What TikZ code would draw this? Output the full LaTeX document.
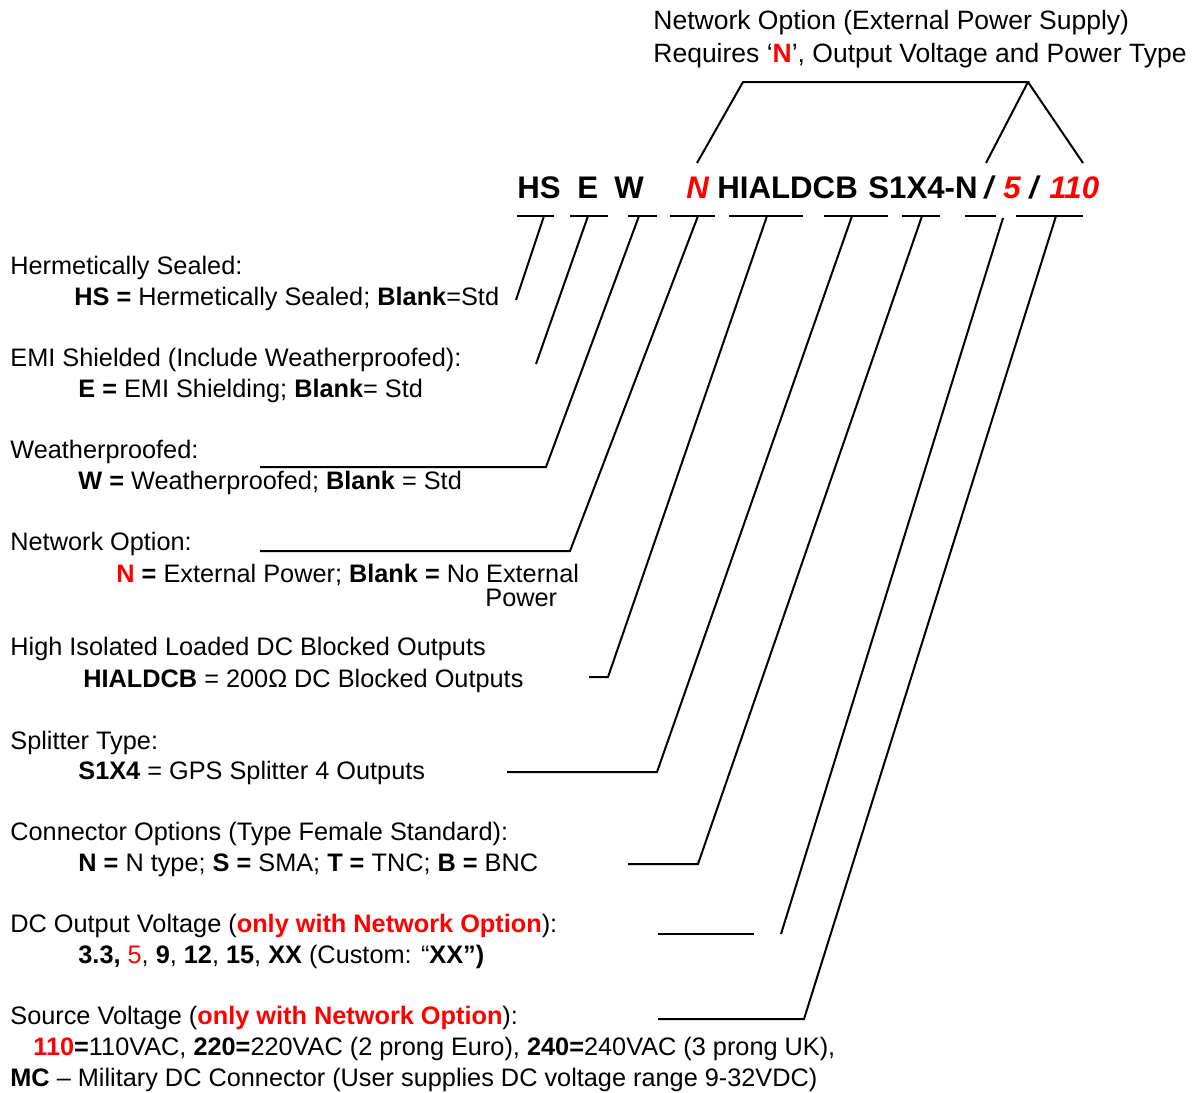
\documentclass[tikz,border=0pt]{standalone}
\usepackage{fontspec}
\setmainfont{Liberation Sans}
\definecolor{optred}{RGB}{255,0,0}

\begin{document}
\begin{tikzpicture}[
        x=0.5pt, y=-0.5pt,
        font=\fontsize{12.65}{15}\selectfont,
        desc/.style={anchor=base west, inner sep=0pt},
        note/.style={anchor=base west, inner sep=0pt,
          font=\fontsize{13.25}{16}\selectfont},
        code/.style={anchor=base west, inner sep=0pt,
          font=\fontsize{15.6}{19}\selectfont\bfseries},
        optcode/.style={code, text=optred,
          font=\fontsize{15.6}{19}\selectfont\bfseries\itshape},
        lead/.style={draw, line width=1pt}
      ]
      \useasboundingbox (0,0) rectangle (1199,1092);

      % Part number
      \node [code] (c_hs) at (517,198) {HS};
      \node [code] (c_e) at (577,198) {E};
      \node [code] (c_w) at (614,198) {W};
      \node [optcode] (c_net) at (686,198) {N};
      \node [code] (c_hi) at (717,198) {HIALDCB};
      \node [code] (c_spl) at (868,198) {S1X4-N};
      \node [code, font=\fontsize{15.6}{19}\selectfont\bfseries\itshape]
      (c_sl1) at (984,198) {/};
      \node [optcode] (c_dc) at (1003,198) {5};
      \node [code, font=\fontsize{15.6}{19}\selectfont\bfseries\itshape]
      (c_sl2) at (1029,198) {/};
      \node [optcode] (c_src) at (1049,198) {110};

      % Network note on top
      \node [note] (n_top1) at (653,29) {Network Option (External Power Supply)};
      \node [note] (n_top2) at (653,62) {Requires ‘\textcolor{optred}{\textbf{N}}’,
      Output Voltage and Power Type};

      % Bracket from note to N, 5 and 110
      \draw [lead] (697,163) -- (743,82) -- (1028,82) -- (986,163);
      \draw [lead] (1028,82) -- (1083,163);

      % Underlines below the part number
      \foreach \xa/\xb in {517/554, 570/608, 628/657, 670/715, 729/803,
        824/888, 902/940, 965/996, 1016/1083}
      \draw [lead] (\xa,216) -- (\xb,216);

      % Leader lines to the descriptions
      \draw [lead] (544,216) -- (516,300);
      \draw [lead] (588,216) -- (536,364);
      \draw [lead] (639,216) -- (546,467) -- (260,467);
      \draw [lead] (698,216) -- (570,551) -- (260,551);
      \draw [lead] (767,216) -- (608,677) -- (589,677);
      \draw [lead] (852,216) -- (657,772) -- (507,772);
      \draw [lead] (922,216) -- (698,864) -- (628,864);
      \draw [lead] (1003,218) -- (781,934);
      \draw [lead] (658,934) -- (754,934);
      \draw [lead] (1056,216) -- (804,1019) -- (658,1019);

      % Descriptions
      \node [desc] (d_hs) at (10,274) {Hermetically Sealed:};
      \node [desc] (d_hs_val) at (74,305) {\textbf{HS =} Hermetically
      Sealed; \textbf{Blank}=Std};
      \node [desc] (d_emi) at (10,366) {EMI Shielded (Include
      Weatherproofed):};
      \node [desc] (d_emi_val) at (78,397) {\textbf{E =} EMI Shielding;
      \textbf{Blank}= Std};
      \node [desc] (d_wp) at (10,458) {Weatherproofed:};
      \node [desc] (d_wp_val) at (78,489) {\textbf{W =} Weatherproofed;
      \textbf{Blank} = Std};
      \node [desc] (d_net) at (10,550) {Network Option:};
      \node [desc] (d_net_val) at (116,582) {\textcolor{optred}{\textbf{N}}
      \textbf{=} External Power; \textbf{Blank =} No External};
      \node [desc] (d_net_val2) at (485,606) {Power};
      \node [desc] (d_hi) at (10,655) {High Isolated Loaded DC Blocked
      Outputs};
      \node [desc] (d_hi_val) at (83,687) {\textbf{HIALDCB} = 200Ω DC
      Blocked Outputs};
      \node [desc] (d_spl) at (10,749) {Splitter Type:};
      \node [desc] (d_spl_val) at (78,779) {\textbf{S1X4} = GPS Splitter 4
      Outputs};
      \node [desc] (d_con) at (10,840) {Connector Options (Type Female
      Standard):};
      \node [desc] (d_con_val) at (78,871) {\textbf{N =} N type; \textbf{S =}
      SMA; \textbf{T =} TNC; \textbf{B =} BNC};
      \node [desc] (d_dc) at (10,932) {DC Output Voltage
      (\textcolor{optred}{\textbf{only with Network Option}}):};
      \node [desc] (d_dc_val) at (78,963) {\textbf{3.3,}
      \textcolor{optred}{5}, \textbf{9}, \textbf{12}, \textbf{15},
      \textbf{XX} (Custom: “\textbf{XX”)}};
      \node [desc] (d_src) at (10,1024) {Source Voltage
      (\textcolor{optred}{\textbf{only with Network Option}}):};
      \node [desc] (d_src_val) at (33,1055)
      {\textcolor{optred}{\textbf{110}}\textbf{=}110VAC,
      \textbf{220=}220VAC (2 prong Euro), \textbf{240=}240VAC (3 prong UK),};
      \node [desc] (d_src_val2) at (10,1086) {\textbf{MC} – Military DC
      Connector (User supplies DC voltage range 9-32VDC)};

    \end{tikzpicture}
\end{document}
